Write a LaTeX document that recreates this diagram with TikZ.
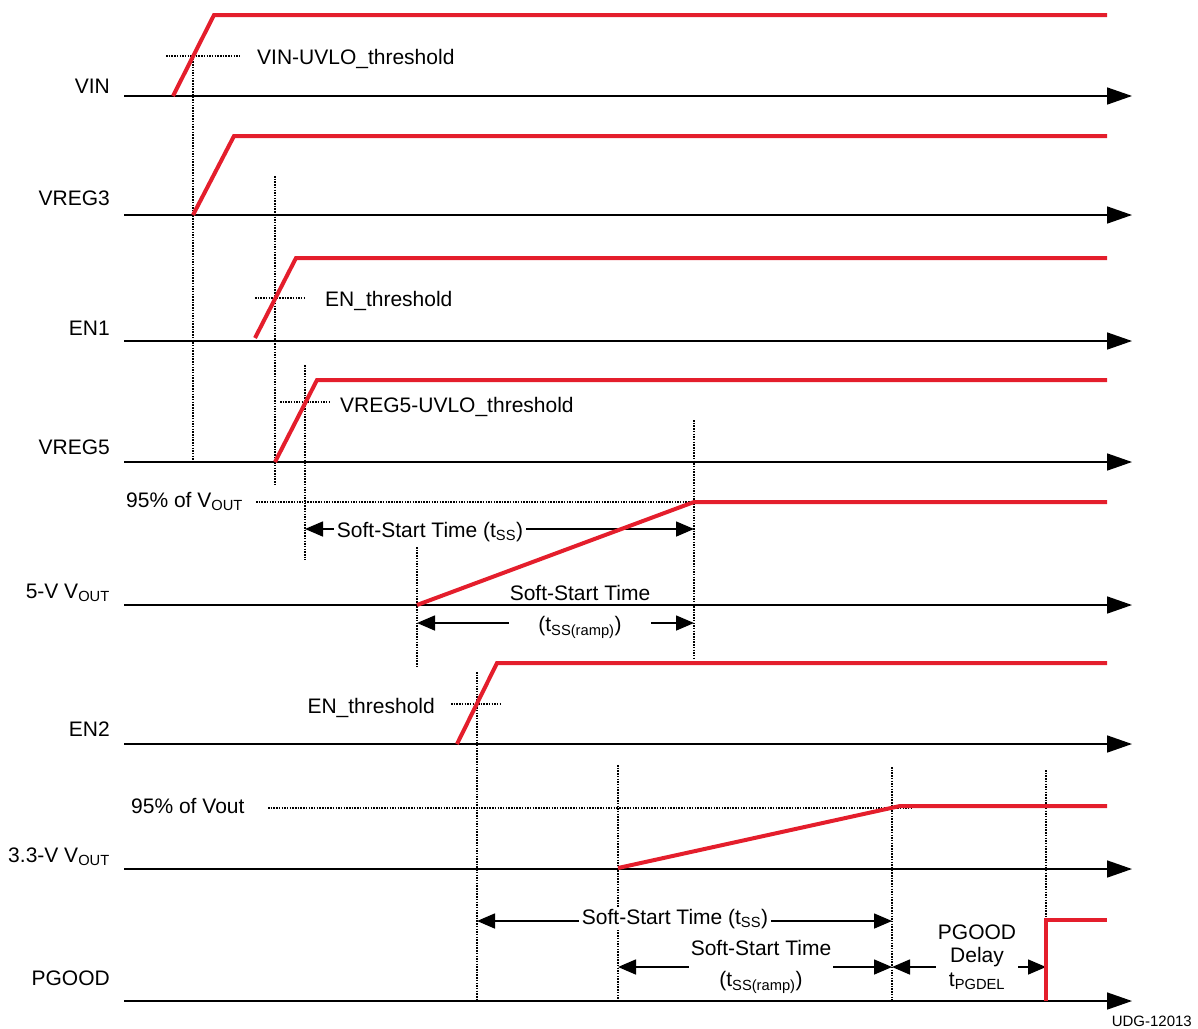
\documentclass[tikz,border=0pt]{standalone}
\usepackage{fontspec}
\setmainfont{Liberation Sans}
\usetikzlibrary{arrows.meta}

\definecolor{sigred}{RGB}{228,30,44}

\begin{document}
\begin{tikzpicture}[x=1pt, y=-1pt, every node/.style={font=\fontsize{21}{25}\selectfont, inner sep=1pt},
	axis/.style={line width=1.6pt, -{Triangle[length=25pt, width=17pt]}},
	wave/.style={sigred, line width=4pt},
	guide/.style={line width=2pt, dash pattern=on 1.5pt off 1.2pt},
	span/.style={line width=1.6pt, {Triangle[length=18pt, width=15pt]}-{Triangle[length=18pt, width=15pt]}},
	gap/.style={fill=white, inner xsep=3pt, inner ysep=2pt}]
	\useasboundingbox (0,0) rectangle (1198,1028);
	% threshold and timing guides
	\draw[guide] (166,56) -- (240,56);
	\draw[guide] (255,298) -- (306,298);
	\draw[guide] (280,402) -- (330,402);
	\draw[guide] (256,502) -- (694,502);
	\draw[guide] (451,704) -- (501,704);
	\draw[guide] (268,808) -- (913,808);
	\draw[guide] (193,56) -- (193,462);
	\draw[guide] (275,176) -- (275,486);
	\draw[guide] (305,365) -- (305,560);
	\draw[guide] (417,547) -- (417,668);
	\draw[guide] (694,420) -- (694,660);
	\draw[guide] (477,672) -- (477,1000);
	\draw[guide] (618,765) -- (618,1000);
	\draw[guide] (892,767) -- (892,1000);
	\draw[guide] (1046,770) -- (1046,1000);
	% dimension arrows
	\draw[span] (305,529) -- (694,529);
	\draw[span] (417,623) -- (694,623);
	\draw[span] (477,921) -- (892,921);
	\draw[span] (618,967) -- (892,967);
	\draw[span] (892,967) -- (1046,967);
	\node[gap, anchor=base] (sstop) at (430,537) {Soft-Start Time (t\textsubscript{SS})};
	\node[gap, align=center, inner xsep=1pt] (ramptop) at (580,612) {Soft-Start Time\\[6pt](t\textsubscript{SS(ramp)})};
	\node[gap, anchor=base] (ssbot) at (675,924) {Soft-Start Time (t\textsubscript{SS})};
	\node[gap, align=center, inner xsep=2pt] (rampbot) at (761,967) {Soft-Start Time\\[6pt](t\textsubscript{SS(ramp)})};
	\node[gap, align=center, inner xsep=2pt] (pgdel) at (977,957) {PGOOD\\[-2pt]Delay\\[-1pt]t\textsubscript{PGDEL}};
	% axes
	\foreach \y/\by/\lbl/\nm in {96/93/VIN/vin, 215/205/VREG3/vregthree, 341/335/EN1/enone, 462/454/VREG5/vregfive,
		605/598/5-V V\textsubscript{OUT}/voutfive, 744/736/EN2/entwo, 869/862/3.3-V V\textsubscript{OUT}/voutthree, 1001/985/PGOOD/pgood} {
		\draw[axis] (124,\y) -- (1132,\y);
		\node[anchor=base east] (\nm) at (111,\by) {\lbl};
	}
	% signals
	\draw[wave] (173,96) -- (214,15) -- (1107,15);
	\draw[wave] (193,215) -- (234,136) -- (1107,136);
	\draw[wave] (255,338) -- (296,258) -- (1107,258);
	\draw[wave] (275,462) -- (317,380) -- (1107,380);
	\draw[wave] (417,605) -- (694,502) -- (1107,502);
	\draw[wave] (457,744) -- (497,663) -- (1107,663);
	\draw[wave] (618,868) -- (900,806) -- (1107,806);
	\draw[wave] (1046,1001) -- (1046,920) -- (1107,920);
	% labels
	\node[anchor=base west] (vinth) at (256,64) {VIN-UVLO\_threshold};
	\node[anchor=base west] (enoneth) at (324,306) {EN\_threshold};
	\node[anchor=base west] (vregth) at (339,412) {VREG5-UVLO\_threshold};
	\node[anchor=base east] (entwoth) at (436,713) {EN\_threshold};
	\node[anchor=base west] (ninetyfive) at (125,507) {95\% of V\textsubscript{OUT}};
	\node[anchor=base west] (ninetyfivelow) at (130,813) {95\% of Vout};
	\node[anchor=base east, font=\fontsize{15}{17}\selectfont] (udg) at (1193,1026) {UDG-12013};
\end{tikzpicture}
\end{document}
